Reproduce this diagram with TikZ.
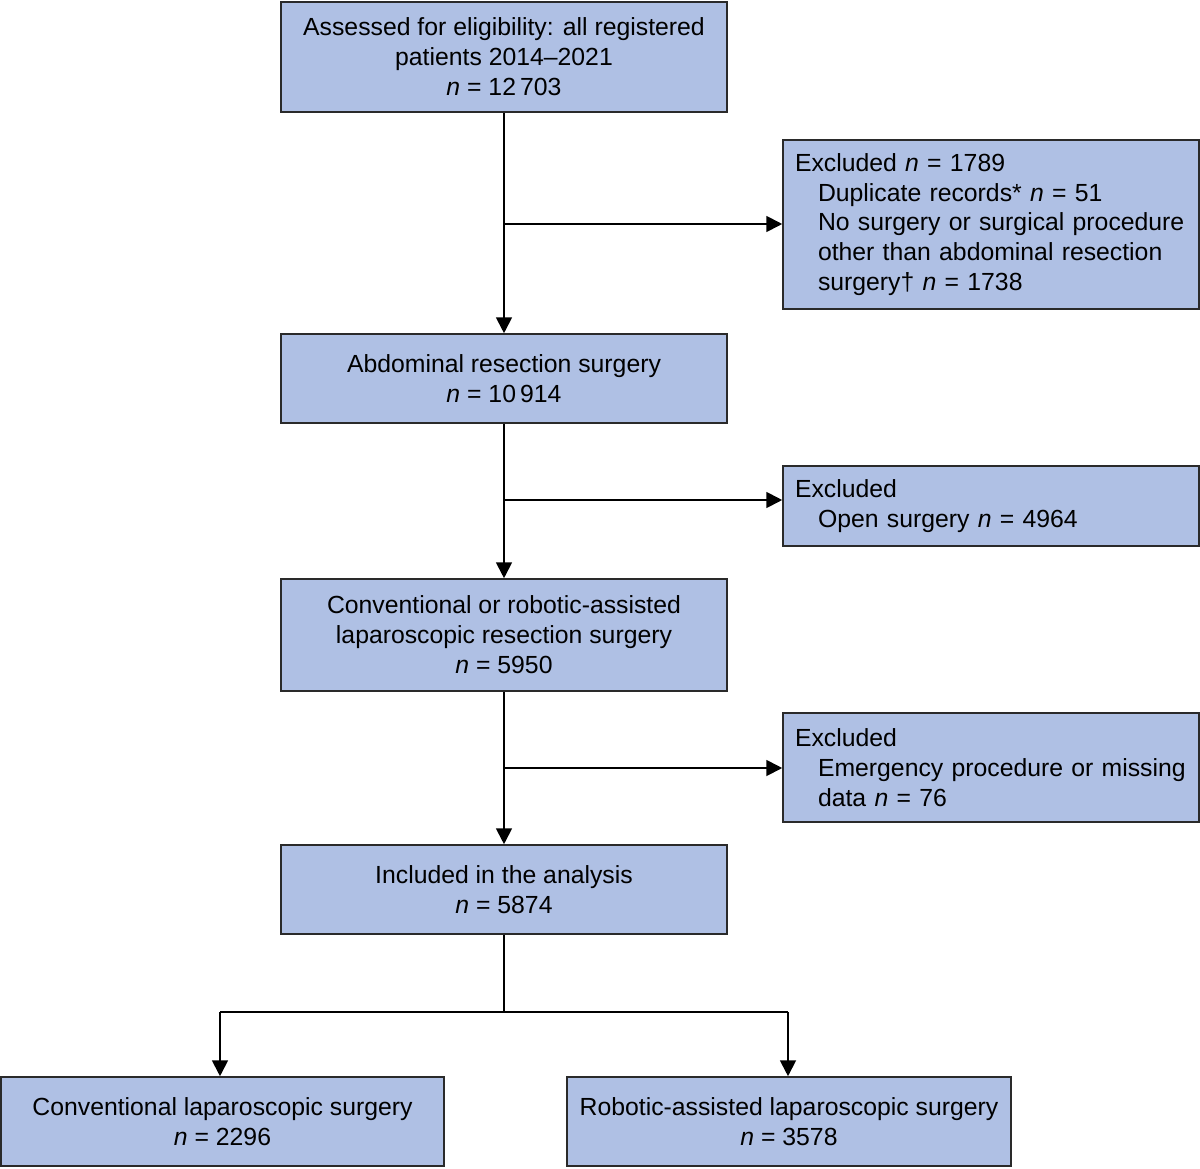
\documentclass[tikz,border=0pt]{standalone}
\usepackage{fontspec}
\setmainfont{Liberation Sans}
\usetikzlibrary{arrows.meta}
\definecolor{boxfill}{HTML}{AFC0E4}
\definecolor{boxline}{HTML}{2A2A2A}
\tikzset{
  box/.style={draw=boxline, line width=0.9pt, fill=boxfill, rectangle, inner sep=0pt,
    align=center, font=\fontsize{14.1}{17}\selectfont},
  exbox/.style={draw=boxline, line width=0.9pt, fill=boxfill, rectangle, inner xsep=0.24cm, inner ysep=0pt,
    align=left, font=\fontsize{14.1}{17}\selectfont},
  conn/.style={line width=1.1pt, black},
  arr/.style={conn, -{Triangle[length=9pt,width=9pt]}}
}
\newcommand{\ind}{\hspace*{0.46cm}}
\begin{document}
\begin{tikzpicture}
\useasboundingbox (0,0) rectangle (24,-23.36);
\node[box, minimum width=8.92cm, minimum height=2.2cm] (a) at (10.08,-1.14)
  {Assessed for eligibility: all registered\\patients 2014--2021\\\textit{n} = 12\,703};
\node[exbox, text width=7.84cm, minimum height=3.38cm] (e1) at (19.82,-4.49)
  {Excluded \textit{n} = 1789\\\ind Duplicate records* \textit{n} = 51\\\ind No surgery or surgical procedure\\\ind other than abdominal resection\\\ind surgery† \textit{n} = 1738};
\node[box, minimum width=8.92cm, minimum height=1.78cm] (b) at (10.08,-7.57)
  {Abdominal resection surgery\\\textit{n} = 10\,914};
\node[exbox, text width=7.84cm, minimum height=1.6cm] (e2) at (19.82,-10.12)
  {Excluded\\\ind Open surgery \textit{n} = 4964};
\node[box, minimum width=8.92cm, minimum height=2.24cm] (c) at (10.08,-12.70)
  {Conventional or robotic-assisted\\laparoscopic resection surgery\\\textit{n} = 5950};
\node[exbox, text width=7.84cm, minimum height=2.18cm] (e3) at (19.82,-15.35)
  {Excluded\\\ind Emergency procedure or missing\\\ind data \textit{n} = 76};
\node[box, minimum width=8.92cm, minimum height=1.78cm] (d) at (10.08,-17.79)
  {Included in the analysis\\\textit{n} = 5874};
\node[box, minimum width=8.86cm, minimum height=1.78cm] (f) at (4.45,-22.43)
  {Conventional laparoscopic surgery\\\textit{n} = 2296};
\node[box, minimum width=8.88cm, minimum height=1.78cm] (g) at (15.78,-22.43)
  {Robotic-assisted laparoscopic surgery\\\textit{n} = 3578};

\coordinate (j1) at (10.08,-4.48);
\coordinate (j2) at (10.08,-10.0);
\coordinate (j3) at (10.08,-15.36);
\coordinate (j4) at (10.08,-20.24);
\coordinate (jl) at (4.40,-20.24);
\coordinate (jr) at (15.76,-20.24);

\draw[arr] (a.south) -- (b.north);
\draw[arr] (j1) -- (j1 -| e1.west);
\draw[arr] (b.south) -- (c.north);
\draw[arr] (j2) -- (j2 -| e2.west);
\draw[arr] (c.south) -- (d.north);
\draw[arr] (j3) -- (j3 -| e3.west);
\draw[conn] (d.south) -- (j4);
\draw[conn] (jl) -- (jr);
\draw[arr] (jl) -- (jl |- f.north);
\draw[arr] (jr) -- (jr |- g.north);
\end{tikzpicture}
\end{document}
